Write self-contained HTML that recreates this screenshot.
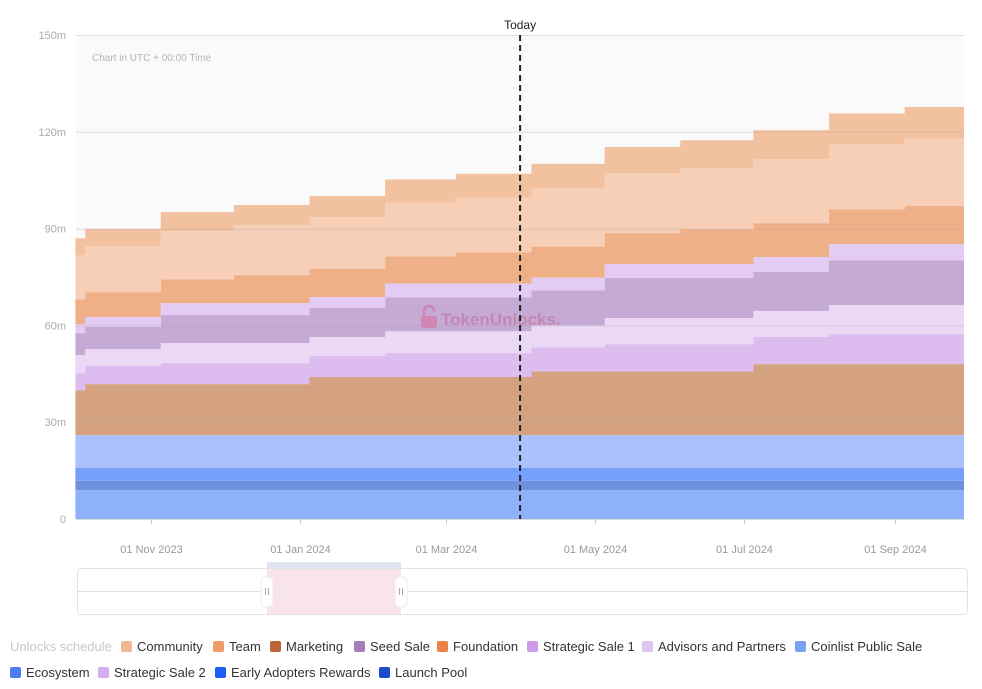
<!DOCTYPE html>
<html><head><meta charset="utf-8">
<style>
body{margin:0;background:#fff;width:982px;height:689px;overflow:hidden;font-family:"Liberation Sans",sans-serif;}
#wrap{position:relative;width:982px;height:689px;}
.lg{position:absolute;font-size:13px;color:#333;white-space:nowrap;}
.sw{display:inline-block;width:11px;height:11px;border-radius:2px;vertical-align:-1px;margin-right:5px;}
</style></head>
<body><div id="wrap">
<svg id="chart" width="982" height="689" style="position:absolute;left:0;top:0"></svg>
<div class="lg" style="left:10px;top:639px;color:#c8c8c8">Unlocks schedule</div>
<div class="lg" style="left:121px;top:639px"><span class="sw" style="background:#f0b892"></span>Community</div>
<div class="lg" style="left:213px;top:639px"><span class="sw" style="background:#ec9d6b"></span>Team</div>
<div class="lg" style="left:270px;top:639px"><span class="sw" style="background:#b96536"></span>Marketing</div>
<div class="lg" style="left:354px;top:639px"><span class="sw" style="background:#a57dbb"></span>Seed Sale</div>
<div class="lg" style="left:437px;top:639px"><span class="sw" style="background:#ea8446"></span>Foundation</div>
<div class="lg" style="left:527px;top:639px"><span class="sw" style="background:#cf9ae8"></span>Strategic Sale 1</div>
<div class="lg" style="left:642px;top:639px"><span class="sw" style="background:#e2c4f1"></span>Advisors and Partners</div>
<div class="lg" style="left:795px;top:639px"><span class="sw" style="background:#7aa0f5"></span>Coinlist Public Sale</div>
<div class="lg" style="left:10px;top:665px"><span class="sw" style="background:#4e7df0"></span>Ecosystem</div>
<div class="lg" style="left:98px;top:665px"><span class="sw" style="background:#d4aef0"></span>Strategic Sale 2</div>
<div class="lg" style="left:215px;top:665px"><span class="sw" style="background:#1f5ff5"></span>Early Adopters Rewards</div>
<div class="lg" style="left:379px;top:665px"><span class="sw" style="background:#1b4bcb"></span>Launch Pool</div>
</div>
<script>
const periodStarts=["2023-10-01","2023-10-05","2023-11-05","2023-12-05","2024-01-05","2024-02-05","2024-03-05","2024-04-05","2024-05-05","2024-06-05","2024-07-05","2024-08-05","2024-09-05"];
const domainStart="2023-10-01T06:00:00Z", domainEnd="2024-09-29T08:00:00Z";
const todayDate="2024-03-31T08:00:00Z";
const coinlist=[9,9,9,9,9,9,9,9,9,9,9,9,9];
const launchPool=[2.8,2.8,2.8,2.8,2.8,2.8,2.8,2.8,2.8,2.8,2.8,2.8,2.8];
const earlyAdopters=[4,4,4,4,4,4,4,4,4,4,4,4,4];
const ecosystem=[10.2,10.2,10.2,10.2,10.2,10.2,10.2,10.2,10.2,10.2,10.2,10.2,10.2];
const marketing=[13.9,15.8,15.8,15.8,18,18,18,19.8,19.8,19.8,22,22,22];
const strategic1=[5.3,5.6,6.5,6.5,6.5,7.4,7.4,7.4,8.4,8.4,8.4,9.3,9.3];
const advisors=[5.6,5.3,6.2,6.2,5.9,6.8,6.8,6.8,8.1,8.1,8.1,9,9];
const seedSale=[6.8,6.8,8.7,8.7,9,10.5,10.5,10.8,12.4,12.4,12.1,13.9,13.9];
const strategic2=[2.8,3.1,3.7,3.7,3.4,4.3,4.3,4,4.3,4.3,4.6,5,5];
const foundation=[7.7,7.7,7.4,8.7,8.7,8.4,9.6,9.6,9.6,10.8,10.5,10.8,11.8];
const team=[13.6,14.3,14.9,15.5,16.1,16.7,17,18,18.6,18.9,19.8,20.1,20.8];
const community=[5.3,5.3,5.9,6.2,6.5,7.1,7.4,7.7,8.1,8.7,9,9.6,9.9];
const yTicks=[0,30,60,90,120,150];
const yTickLabels=["0","30m","60m","90m","120m","150m"];
const xTicks=["2023-11-01","2024-01-01","2024-03-01","2024-05-01","2024-07-01","2024-09-01"];
const xTickLabels=["01 Nov 2023","01 Jan 2024","01 Mar 2024","01 May 2024","01 Jul 2024","01 Sep 2024"];

const L=76,R=964,T=35,B=519,YMAX=150;
const t0=Date.parse(domainStart),t1=Date.parse(domainEnd);
const xs=d=>L+(Date.parse(d)-t0)/(t1-t0)*(R-L);
const ys=v=>B-v/YMAX*(B-T);
const NS="http://www.w3.org/2000/svg";
const svg=document.getElementById('chart');
function mk(tag,attrs,parent){const e=document.createElementNS(NS,tag);for(const k in attrs)e.setAttribute(k,attrs[k]);(parent||svg).appendChild(e);return e;}

const bg=mk('rect',{x:L,y:T,width:R-L,height:B-T,fill:'#fafafa'});


const note=mk('text',{x:92,y:61,'font-size':10,fill:'#b5b5b5'});note.textContent='Chart in UTC + 00:00 Time';



const series=[["coinlist",coinlist,"#8fb0fb"],["launch-pool",launchPool,"#7090de"],["early-adopters",earlyAdopters,"#76a0fb"],["ecosystem",ecosystem,"#abc1fb"],["marketing",marketing,"#d4a281"],["strategic-sale-1",strategic1,"#ddbdf0"],["advisors",advisors,"#ead8f5"],["seed-sale",seedSale,"#c4aad4"],["strategic-sale-2",strategic2,"#e3cbf3"],["foundation",foundation,"#efb088"],["team",team,"#f6cfb6"],["community",community,"#f2c2a0"]];
const n=periodStarts.length;
const base=new Array(n).fill(0);
const bounds=periodStarts.map(xs).concat([R]);
series.forEach(([name,vals,col])=>{
  let top=[],bot=[];
  for(let i=0;i<n;i++){const b=base[i],t=b+vals[i];top.push(t);bot.push(b);base[i]=t;}
  let d='';
  for(let i=0;i<n;i++){d+=(i?'L':'M')+bounds[i]+','+ys(top[i])+'L'+bounds[i+1]+','+ys(top[i]);}
  for(let i=n-1;i>=0;i--){d+='L'+bounds[i+1]+','+ys(bot[i])+'L'+bounds[i]+','+ys(bot[i]);}
  const p=mk('path',{d:d+'Z',fill:col});
  
  
});
yTicks.forEach((v,i)=>{
  const g=mk('line',{x1:L,x2:R,y1:ys(v)+0.5,y2:ys(v)+0.5,stroke:i==0?'#d8d8d8':'rgba(160,160,160,0.3)','stroke-width':1});
  
  
  const t=mk('text',{x:66,y:ys(v)+4,'font-size':11,fill:'#aaa','text-anchor':'end'});t.textContent=yTickLabels[i];
  
  
});
xTicks.forEach((d,i)=>{
  const x=Math.round(xs(d))+0.5;
  const tk=mk('line',{x1:x,x2:x,y1:B,y2:B+5,stroke:'#ccc'});
  
  
  const t=mk('text',{x:x,y:553,'font-size':11,fill:'#999','text-anchor':'middle'});t.textContent=xTickLabels[i];
  
  
});
// watermark
const wm=mk('g',{opacity:0.75});


mk('path',{d:'M424,317 v-6 a5,5 0 0 1 10,0 v1',fill:'none',stroke:'#d479a9','stroke-width':2.5},wm);
mk('rect',{x:421,y:316,width:16,height:12,rx:3,fill:'#d479a9'},wm);
const wt=mk('text',{x:441,y:325,'font-size':17,fill:'#c77aa8','font-weight':'bold'},wm);wt.textContent='TokenUnlocks.';
// today
const tx=xs(todayDate);
const tl=mk('line',{x1:tx,x2:tx,y1:T,y2:B,stroke:'#222','stroke-width':2,'stroke-dasharray':'6,4'});


const tt=mk('text',{x:tx,y:29,'font-size':12,fill:'#222','text-anchor':'middle'});tt.textContent='Today';


// slider
const sb=mk('rect',{x:77.5,y:568.5,width:890,height:46,rx:4,fill:'#fff',stroke:'#e3e3e3'});


const sl=mk('line',{x1:78,x2:967,y1:591.5,y2:591.5,stroke:'#ddd'});


const sel=mk('rect',{x:267,y:569,width:134,height:45,fill:'#f8e4ea'});


const sbar=mk('rect',{x:267,y:562,width:134,height:7,fill:'#dfe4f1'});


[267,401].forEach((hx,i)=>{
  const h=mk('rect',{x:hx-6,y:577,width:12,height:30,rx:5,fill:'#fff',stroke:'#eee'});
  
  
  mk('line',{x1:hx-1.5,x2:hx-1.5,y1:588,y2:595,stroke:'#aaa'});
  mk('line',{x1:hx+1.5,x2:hx+1.5,y1:588,y2:595,stroke:'#aaa'});
});
</script>
</body></html>
